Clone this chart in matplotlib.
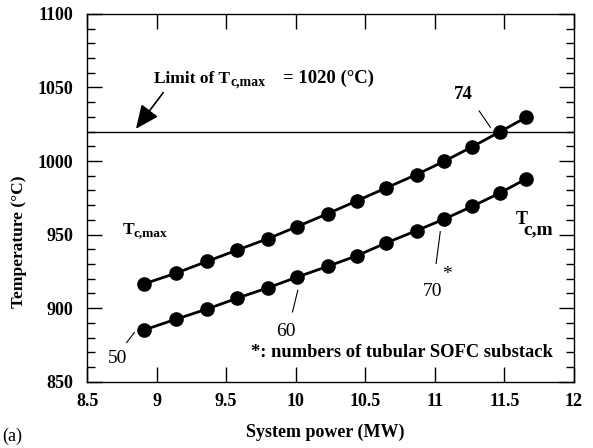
import matplotlib
matplotlib.use("Agg")
import matplotlib.pyplot as plt

plt.rcParams['font.family'] = ['Liberation Serif', 'DejaVu Serif']

# Data
substacks = [50, 52, 54, 56, 58, 60, 62, 64, 66, 68, 70, 72, 74, 76]
power_mw = [8.91, 9.14, 9.36, 9.58, 9.80, 10.01, 10.23, 10.44, 10.65, 10.87,
            11.07, 11.27, 11.47, 11.66]
t_c_max = [916.5, 923.8, 931.7, 939.5, 947.2, 955.4, 964.2, 972.9, 981.7,
           990.8, 999.9, 1009.7, 1019.9, 1029.8]
t_c_m = [885.2, 892.5, 899.3, 906.8, 913.8, 921.1, 928.4, 935.6, 944.3,
         952.7, 960.6, 969.2, 978.3, 988.0]
t_limit = 1020
x_ticks = [8.5, 9, 9.5, 10, 10.5, 11, 11.5, 12]
x_tick_labels = ['8.5', '9', '9.5', '10', '10.5', '11', '11.5', '12']
y_ticks = [850, 900, 950, 1000, 1050, 1100]

fig = plt.figure(figsize=(5.93, 4.48), dpi=100)
ax = fig.add_axes([0.147, 0.148, 0.8205, 0.821])

for series in (t_c_max, t_c_m):
    ax.plot(power_mw, series, color='black', lw=2.0, marker='o', ms=9.5,
            markerfacecolor='black', markeredgecolor='black')

ax.axhline(t_limit, color='black', lw=1.0)

ax.set_xlim(8.5, 12)
ax.set_ylim(850, 1100)
ax.set_xticks(x_ticks)
ax.set_xticklabels(x_tick_labels)
ax.set_yticks(y_ticks)
ax.set_yticks(range(850, 1101, 10), minor=True)
ax.tick_params(axis='both', which='major', direction='in', length=11,
               width=1.0, top=True, right=True, labelsize=13)
ax.tick_params(axis='y', which='minor', direction='in', length=6,
               width=1.0, right=True)
ax.tick_params(axis='x', which='major', pad=8)
ax.tick_params(axis='y', which='major', pad=10)
for lab in ax.get_xticklabels() + ax.get_yticklabels():
    lab.set_fontweight('bold')
for sp in ax.spines.values():
    sp.set_linewidth(1.0)

fig.text(0.548, 0.036, 'System power (MW)', ha='center', va='center',
         fontsize=13, fontweight='bold')
fig.text(0.032, 0.46, 'Temperature (°C)', ha='center', va='center',
         rotation=90, fontsize=12.5, fontweight='bold')
fig.text(0.004, 0.025, '(a)', ha='left', va='center', fontsize=13)

# Limit annotation
ax.text(8.981, 1052.9, 'Limit of T', ha='left', va='baseline',
        fontsize=12.5, fontweight='bold')
ax.text(9.53, 1051.3, 'c,max', ha='left', va='baseline',
        fontsize=10, fontweight='bold')
ax.text(9.909, 1052.9, '= 1020 (°C)', ha='left', va='baseline',
        fontsize=13.5, fontweight='bold')
ax.annotate('', xy=(8.851, 1021.9), xytext=(9.047, 1046.5),
            arrowprops=dict(arrowstyle='-|>,head_length=0.9,head_width=0.4',
                            color='black', lw=1.2,
                            mutation_scale=16, shrinkA=0, shrinkB=0))

# series labels
ax.text(8.755, 950.4, 'T', ha='left', va='baseline', fontsize=12.5,
        fontweight='bold')
ax.text(8.835, 948.9, 'c,max', ha='left', va='baseline', fontsize=9.5,
        fontweight='bold')
ax.text(11.585, 957.4, 'T', ha='left', va='baseline', fontsize=13,
        fontweight='bold')
ax.text(11.635, 949.9, 'c,m', ha='left', va='baseline', fontsize=14,
        fontweight='bold')

# substack numbers
ax.text(11.205, 1045.0, str(substacks[12]), ha='center', va='center',
        fontsize=13.5, fontweight='bold')
ax.plot([11.32, 11.40], [1034.0, 1023.0], color='black', lw=0.8)

ax.text(8.722, 865.8, str(substacks[0]), ha='center', va='center', fontsize=14)
ax.plot([8.784, 8.839], [876.6, 883.4], color='black', lw=0.8)

ax.text(9.93, 883.9, str(substacks[5]), ha='center', va='center', fontsize=14)
ax.plot([9.977, 10.015], [897.4, 912.1], color='black', lw=0.8)

ax.text(10.985, 911.0, str(substacks[10]), ha='center', va='center', fontsize=14)
ax.text(11.09, 923.0, '*', ha='center', va='center', fontsize=14)
ax.plot([11.01, 11.04], [930.3, 952.0], color='black', lw=0.8)

ax.text(11.851, 869.6, '*: numbers of tubular SOFC substack', ha='right',
        va='center', fontsize=13.3, fontweight='bold')

fig.savefig('out.png', dpi=100)
